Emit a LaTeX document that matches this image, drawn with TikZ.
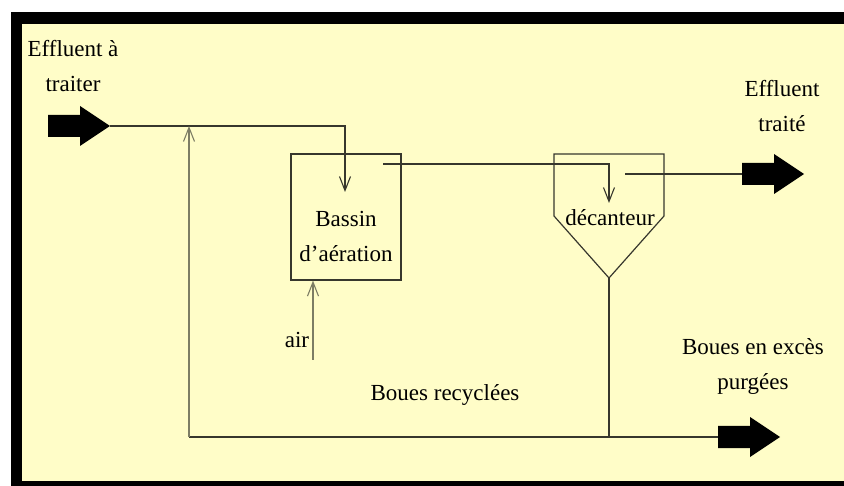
\documentclass[tikz,border=0pt]{standalone}
\usepackage{fontspec}
\setmainfont{Liberation Serif}
\usepackage{tikz}
\usetikzlibrary{calc, positioning}
\usetikzlibrary{arrows.meta}
\definecolor{paper}{RGB}{255,253,200}
\definecolor{pipe}{RGB}{55,55,45}
\definecolor{pipelight}{RGB}{125,125,100}
\tikzset{
    pipe/.style={draw=pipe, line width=1.2pt},% plain line between the units
    flow/.style={pipe, -{Straight Barb[length=14pt, width=11pt, line width=1.1pt]}},
    lbl/.style={align=center, font=\fontsize{23}{35}\selectfont, inner sep=0pt},
    fatarrow/.pic={
        \fill[black] (-62,-11) -- (-30,-11) -- (-30,-20) -- (0,0) -- (-30,20) -- (-30,11) -- (-62,11) -- cycle;
        \coordinate (-tip) at (0,0);
        \coordinate (-tail) at (-62,0);
    }
}

\begin{document}
\begin{tikzpicture}[x=1pt, y=-1pt]
    \useasboundingbox (0,0) rectangle (844,486);
    \fill[white] (0,0) rectangle (844,486);
    \fill[black] (11,12) rectangle (844,486);
    \fill[paper] (22,24) rectangle (844,481);

    % big arrows
    \foreach \nm/\x/\y in {in/110/126, out/804/174, purge/780/437} {
        \pic (\nm) at (\x,\y) {fatarrow};
    }

    % units
    \node[rectangle, pipe, minimum width=110pt, minimum height=126pt] (bassin) at (346,217) {};
    \node[lbl] (bassintxt) at (346,236) {Bassin\\d’aération};
    \draw[pipe] (554,154) coordinate (dtl) -- (664,154) coordinate (dtr) -- (664,216)
        -- (609,278) coordinate (dbot) -- (554,216) -- cycle;
    \node[lbl] (decanteur) at (610,218) {décanteur};

    % points on the lines
    \coordinate (junction) at (189,126);
    \coordinate (recycle) at (189,437);
    \coordinate (bassinin) at (345,192);
    \coordinate (bassinout) at (383,164);
    \coordinate (decin) at (609,203);
    \coordinate (decout) at (625,174);
    \coordinate (air) at (313,360);

    \draw[flow] (in-tip) -| (bassinin);
    \draw[flow] (bassinout) -| (decin);
    \draw[pipe] (decout) -- (out-tail);
    \draw[pipe] (dbot) -- (dbot |- recycle);
    \draw[pipe] (recycle) -- (purge-tail);
    \draw[flow, draw=pipelight] (recycle) -- (junction);
    \draw[flow, draw=pipelight] (air) -- (bassin.south -| air);

    % texts
    \node[lbl] (entree) at (73,66) {Effluent à\\traiter};
    \node[lbl] (sortie) at (782,106) {Effluent\\traité};
    \node[lbl] (airtxt) at (297,340) {air};
    \node[lbl] (recyctxt) at (445,395) {Boues recyclées};
    \node[lbl] (purgetxt) at (753,366) {Boues en excès\\purgées};
\end{tikzpicture}
\end{document}
